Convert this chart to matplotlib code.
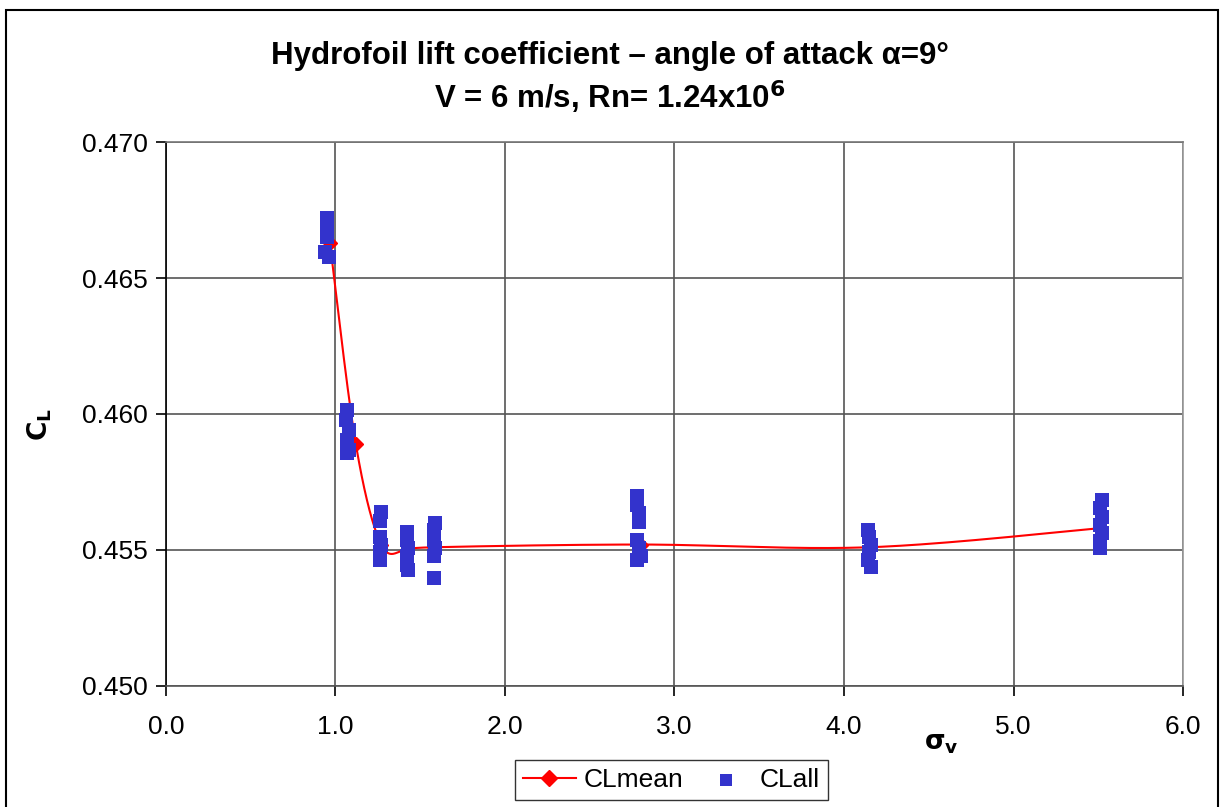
import numpy as np
import matplotlib
matplotlib.use('Agg')
import matplotlib.pyplot as plt
from matplotlib.patches import Rectangle

plt.rcParams['font.family'] = ['Liberation Sans', 'DejaVu Sans']
plt.rcParams['font.size'] = 19

# mean lift coefficient per cavitation number
sig_mean = [0.967, 1.12, 1.27, 1.42, 1.58, 2.80, 4.15, 5.51]
cl_mean = [0.4663, 0.4589, 0.4552, 0.4550, 0.4551, 0.4552, 0.4551, 0.4558]

# all samples
sig_all = [0.95, 0.95, 0.95, 0.94, 0.96,
           1.07, 1.06, 1.08, 1.07, 1.08, 1.07,
           1.27, 1.26, 1.26, 1.27, 1.26, 1.26,
           1.42, 1.42, 1.43, 1.42, 1.42, 1.43,
           1.59, 1.58, 1.58, 1.59, 1.58, 1.58,
           2.78, 2.78, 2.79, 2.79, 2.78, 2.79, 2.80, 2.78,
           4.14, 4.15, 4.16, 4.15, 4.14, 4.16,
           5.52, 5.51, 5.52, 5.51, 5.52, 5.51, 5.51]
cl_all = [0.46722, 0.46700, 0.46651, 0.46596, 0.46577,
          0.46015, 0.45978, 0.45941, 0.45904, 0.45868, 0.45857,
          0.45640, 0.45607, 0.45548, 0.45518, 0.45493, 0.45463,
          0.45566, 0.45537, 0.45507, 0.45478, 0.45445, 0.45426,
          0.45599, 0.45574, 0.45537, 0.45507, 0.45478, 0.45397,
          0.45699, 0.45665, 0.45636, 0.45603, 0.45537, 0.45507, 0.45478, 0.45463,
          0.45574, 0.45548, 0.45518, 0.45493, 0.45463, 0.45437,
          0.45684, 0.45654, 0.45621, 0.45592, 0.45562, 0.45533, 0.45507]

xticks = [0.0, 1.0, 2.0, 3.0, 4.0, 5.0, 6.0]
yticks = [0.450, 0.455, 0.460, 0.465, 0.470]


def smooth(x, y, xr, yr, n=40):
    # excel-like smoothed line (catmull-rom through the points)
    px = np.array(x) / xr
    py = np.array(y) / yr
    P = np.column_stack([px, py])
    P = np.vstack([P[0], P, P[-1]])
    out = []
    for i in range(1, len(P) - 2):
        p0, p1, p2, p3 = P[i - 1], P[i], P[i + 1], P[i + 2]
        c1 = p1 + (p2 - p0) / 6
        c2 = p2 - (p3 - p1) / 6
        t = np.linspace(0, 1, n)[:, None]
        seg = (1 - t)**3 * p1 + 3 * (1 - t)**2 * t * c1 + 3 * (1 - t) * t**2 * c2 + t**3 * p2
        out.append(seg)
    out = np.vstack(out)
    return out[:, 0] * xr, out[:, 1] * yr


fig = plt.figure(figsize=(12.2, 8.07), dpi=100)
ax = fig.add_axes([0.136, 0.150, 0.8337, 0.674])

sx, sy = smooth(sig_mean, cl_mean, 6.0, 0.02)
ax.plot(sx, sy, color='#FF0000', lw=1.5, zorder=3)
ax.plot(sig_mean, cl_mean, ls='none', marker='D', ms=7, color='#FF0000', zorder=3)
ax.scatter(sig_all, cl_all, marker='s', s=100, color='#3333CC', zorder=4, linewidths=0)

# legend handles
ax.plot([], [], color='#FF0000', lw=1.5, marker='D', ms=8, label='CLmean')
ax.scatter([], [], marker='s', s=80, color='#3333CC', linewidths=0, label='CLall')

ax.set_xlim(0, 6)
ax.set_ylim(0.450, 0.470)
ax.set_xticks(xticks)
ax.set_yticks(yticks)
ax.set_xticklabels(['%.1f' % v for v in xticks])
ax.set_yticklabels(['%.3f' % v for v in yticks])
ax.grid(True, color='#555555', lw=1.2)
ax.set_axisbelow(True)
ax.tick_params(direction='out', length=7, width=1.2, pad=6)
ax.tick_params(axis='x', pad=14)
ax.spines['left'].set_color('black')
ax.spines['bottom'].set_color('#555555')
ax.spines['top'].set_color('#777777')
ax.spines['right'].set_color('#999999')
for s in ax.spines.values():
    s.set_linewidth(1.2)

ax.set_ylabel(r'$\mathbf{C_L}$', fontsize=19, fontweight='bold')
ax.yaxis.set_label_coords(-0.11, 0.48)
ax.set_xlabel(r'$\mathbf{\sigma_v}$', fontsize=19)
ax.xaxis.set_label_coords(0.762, -0.085)

fig.text(0.5, 0.93, 'Hydrofoil lift coefficient \u2013 angle of attack \u03b1=9\u00b0',
         ha='center', va='center', fontsize=22.5, fontweight='bold')
fig.text(0.5, 0.88, 'V = 6 m/s, Rn= 1.24x10$^{\\mathbf{6}}$',
         ha='center', va='center', fontsize=22.5, fontweight='bold')

leg = ax.legend(loc='upper center', bbox_to_anchor=(0.497, -0.136), ncol=2,
                frameon=True, fancybox=False, edgecolor='black', fontsize=19,
                handlelength=2.0, handletextpad=0.3, columnspacing=0.6,
                borderpad=0.3, borderaxespad=0)
leg.get_frame().set_linewidth(1.0)

# outer chart border
fig.patches.append(Rectangle((0.005, -0.05), 0.993, 1.037, transform=fig.transFigure,
                             fill=False, edgecolor='black', lw=1.5, clip_on=False))

fig.savefig('out.png', dpi=100)
